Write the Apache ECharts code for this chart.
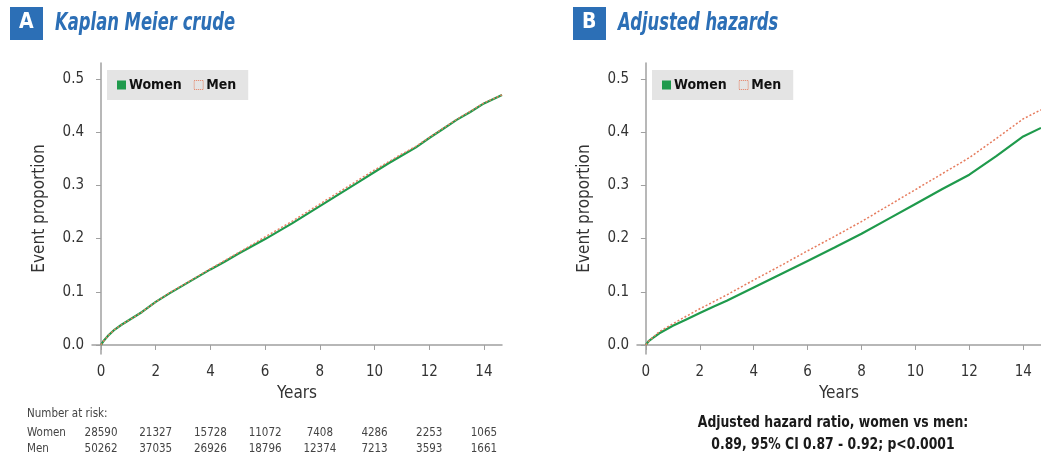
<!DOCTYPE html>
<html><head><meta charset="utf-8">
<script src="https://cdn.jsdelivr.net/npm/echarts@6/dist/echarts.min.js"></script>
<style>html,body{margin:0;padding:0;background:#fff}#c{width:1041px;height:459px}</style>
</head><body><div id="c"></div>
<script>
// ---- data ----
const yearsA = [0,0.1,0.25,0.5,0.75,1,1.5,2,2.5,3,3.5,4,4.5,5,5.5,6,6.5,7,7.5,8,8.5,9,9.5,10,10.5,11,11.5,12,12.5,13,13.5,14,14.66];
const womenA = [0,0.008,0.017,0.029,0.038,0.046,0.062,0.081,0.097,0.112,0.127,0.142,0.156,0.171,0.185,0.199,0.214,0.229,0.245,0.261,0.277,0.293,0.309,0.325,0.341,0.356,0.371,0.389,0.406,0.423,0.438,0.454,0.47];
const menA   = [0,0.008,0.017,0.029,0.038,0.046,0.062,0.081,0.098,0.113,0.128,0.143,0.158,0.173,0.188,0.203,0.218,0.233,0.249,0.265,0.281,0.297,0.313,0.329,0.344,0.359,0.373,0.390,0.407,0.424,0.439,0.455,0.47];
const yearsB = [0,0.1,0.25,0.5,1,1.5,2,2.5,3,4,5,6,7,8,9,10,11,12,13,14,14.66];
const womenB = [0,0.007,0.013,0.022,0.036,0.048,0.060,0.072,0.083,0.108,0.133,0.158,0.183,0.209,0.237,0.265,0.293,0.320,0.355,0.392,0.408];
const menB   = [0,0.007,0.014,0.025,0.040,0.054,0.068,0.081,0.094,0.122,0.149,0.177,0.204,0.232,0.262,0.292,0.322,0.352,0.388,0.425,0.442];
const xTicks = [0,2,4,6,8,10,12,14];
const yTicks = [0,0.1,0.2,0.3,0.4,0.5];
const riskWomen = [28590,21327,15728,11072,7408,4286,2253,1065];
const riskMen   = [50262,37035,26926,18796,12374,7213,3593,1661];
const titleA = 'Kaplan Meier crude';
const titleB = 'Adjusted hazards';
const hrLine1 = 'Adjusted hazard ratio, women vs men:';
const hrLine2 = '0.89, 95% CI 0.87 - 0.92; p<0.0001';

const FONT = '"Liberation Sans Narrow","DejaVu Sans Condensed","Roboto",sans-serif';
const GREEN = '#1f9a4c', MEN = '#e67c5e', BLUE = '#2c6fb6';
const pairs = (xs, ys) => xs.map((x, i) => [x, ys[i]]);

function xAxisMain(grid) {
  return {
    type: 'value', gridIndex: grid, min: -0.33, max: 14.66,
    axisLine: {show: true, lineStyle: {color: '#a0a0a0', width: 1.5}},
    axisTick: {show: true, customValues: xTicks, length: 5, lineStyle: {color: '#a0a0a0'}},
    axisLabel: {show: true, customValues: xTicks, margin: 11, fontSize: 15, color: '#333', fontFamily: FONT},
    splitLine: {show: false},
    name: 'Years', nameLocation: 'middle', nameGap: 30,
    nameTextStyle: {fontSize: 17, color: '#333', fontFamily: FONT}
  };
}
function yAxisMain(grid) {
  return {
    type: 'value', gridIndex: grid, min: -0.017, max: 0.53,
    axisLine: {show: true, lineStyle: {color: '#a0a0a0', width: 1.5}},
    axisTick: {show: true, customValues: yTicks, length: 5, lineStyle: {color: '#a0a0a0'}},
    axisLabel: {show: true, customValues: yTicks, margin: 8, fontSize: 15, color: '#333', fontFamily: FONT,
      formatter: v => v.toFixed(1)},
    splitLine: {show: false},
    name: 'Event proportion', nameLocation: 'middle', nameGap: 44, nameRotate: 90,
    nameTextStyle: {fontSize: 17, color: '#333', fontFamily: FONT}
  };
}
function riskAxis(arr, offset) {
  return {
    type: 'value', gridIndex: 0, min: -0.33, max: 14.66, position: 'bottom', offset: offset,
    axisLine: {show: false}, axisTick: {show: false}, splitLine: {show: false},
    axisLabel: {show: true, customValues: xTicks, margin: 0, fontSize: 11.5, color: '#444', fontFamily: FONT,
      formatter: v => String(arr[Math.round(v / 2)])}
  };
}
function legend(left) {
  return {
    left: left, top: 70, backgroundColor: '#e4e4e4', padding: [8, 12, 8, 10], itemGap: 12,
    itemWidth: 9, itemHeight: 9, borderRadius: 0, selectedMode: false,
    textStyle: {fontSize: 14, fontWeight: 'bold', color: '#111', fontFamily: FONT, padding: [0, 0, 0, -2]},
    data: [
      {name: 'Women', icon: 'rect', itemStyle: {color: GREEN}},
      {name: 'Men', icon: 'rect', itemStyle: {color: 'rgba(0,0,0,0)', borderColor: MEN, borderWidth: 1, borderType: 'dotted'}}
    ]
  };
}
function titleGraphic(x, letter, text) {
  return [
    {type: 'rect', left: x, top: 7, shape: {width: 33, height: 33}, style: {fill: BLUE}},
    {type: 'text', left: x + 9, top: 12, style: {text: letter, fill: '#fff', font: 'bold 21px ' + FONT}},
    {type: 'text', x: x + 45, y: 12, scaleX: 0.76, style: {text: text, fill: BLUE, font: 'italic bold 24px ' + FONT}}
  ];
}

const chart = echarts.init(document.getElementById('c'), null, {renderer: 'canvas'});
chart.setOption({
  animation: false,
  backgroundColor: '#fff',
  grid: [
    {left: 92, top: 63, width: 410, height: 291},
    {left: 637, top: 63, width: 410, height: 291}
  ],
  xAxis: [xAxisMain(0), xAxisMain(1), riskAxis(riskWomen, 73), riskAxis(riskMen, 89)],
  yAxis: [yAxisMain(0), yAxisMain(1)],
  legend: [legend(107), legend(652)],
  series: [
    {name: 'Women', type: 'line', xAxisIndex: 0, yAxisIndex: 0, data: pairs(yearsA, womenA), showSymbol: false,
      lineStyle: {color: GREEN, width: 2.2}, itemStyle: {color: GREEN}, z: 2},
    {name: 'Men', type: 'line', xAxisIndex: 0, yAxisIndex: 0, data: pairs(yearsA, menA), showSymbol: false,
      lineStyle: {color: MEN, width: 1.4, type: [2, 2]}, itemStyle: {color: MEN}, z: 3},
    {name: 'Women', type: 'line', xAxisIndex: 1, yAxisIndex: 1, data: pairs(yearsB, womenB), showSymbol: false,
      lineStyle: {color: GREEN, width: 2.2}, itemStyle: {color: GREEN}, z: 2},
    {name: 'Men', type: 'line', xAxisIndex: 1, yAxisIndex: 1, data: pairs(yearsB, menB), showSymbol: false,
      lineStyle: {color: MEN, width: 1.5, type: [2, 2]}, itemStyle: {color: MEN}, z: 3}
  ],
  graphic: [
    ...titleGraphic(10, 'A', titleA),
    ...titleGraphic(573, 'B', titleB),
    {type: 'text', left: 27, top: 408, style: {text: 'Number at risk:', fill: '#444', font: '11.5px ' + FONT}},
    {type: 'text', left: 27, top: 427, style: {text: 'Women', fill: '#444', font: '11.5px ' + FONT}},
    {type: 'text', left: 27, top: 443, style: {text: 'Men', fill: '#444', font: '11.5px ' + FONT}},
    {type: 'text', x: 833, y: 423, scaleX: 0.92, style: {text: hrLine1, fill: '#1a1a1a', font: 'bold 15px ' + FONT, align: 'center', verticalAlign: 'middle'}},
    {type: 'text', x: 833, y: 445, scaleX: 0.92, style: {text: hrLine2, fill: '#1a1a1a', font: 'bold 15px ' + FONT, align: 'center', verticalAlign: 'middle'}}
  ]
});
</script>
</body></html>
